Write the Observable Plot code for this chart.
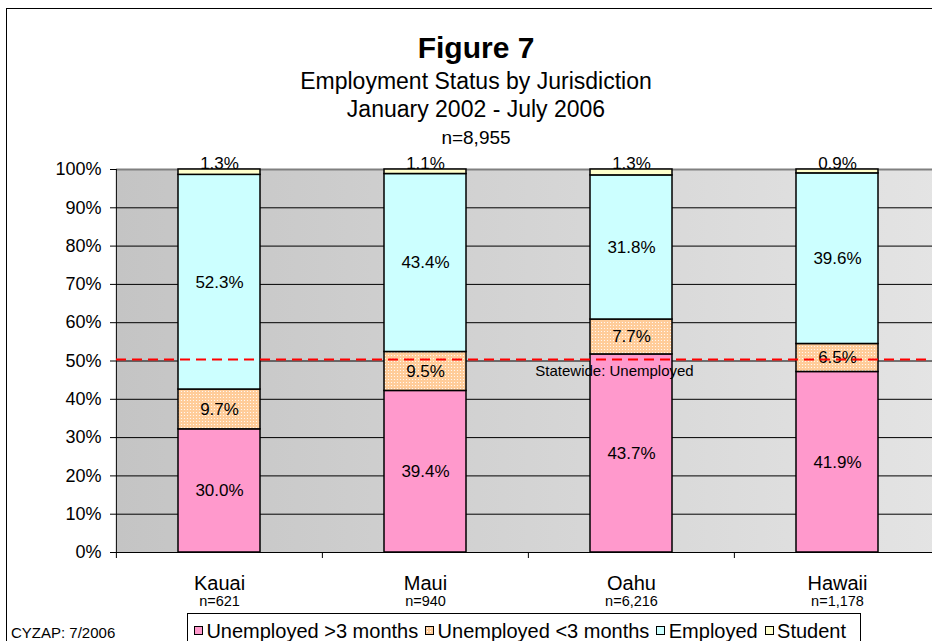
<!DOCTYPE html>
<html><head><meta charset="utf-8">
<script src="https://cdn.jsdelivr.net/npm/d3@7"></script>
<script src="https://cdn.jsdelivr.net/npm/@observablehq/plot@0.6"></script>
<style>
html,body{margin:0;padding:0;background:#fff;}
body{width:932px;height:641px;overflow:hidden;position:relative;font-family:"Liberation Sans",Arial,sans-serif;color:#000;}
#titles{position:relative;height:150px;}
.t{position:absolute;left:0;width:952px;text-align:center;line-height:1;white-space:nowrap;}
#chart svg{display:block;}
#frame{position:absolute;left:6px;top:8px;width:980px;height:700px;border:1px solid #000;pointer-events:none;}
#legend{position:absolute;left:187px;top:613px;width:674px;height:40px;border:1px solid #000;background:#fff;font-size:20px;line-height:1;white-space:nowrap;padding:7px 0 0 6px;box-sizing:border-box;}
.item{display:inline-block;margin-right:7px;}
.sw{display:inline-block;width:7px;height:7px;border:1px solid #000;margin-right:3.4px;vertical-align:3px;}
#caption{position:absolute;left:11px;top:625px;font-size:15px;line-height:1;white-space:nowrap;}
</style>
</head><body>
<div id="titles"></div>
<div id="chart"></div>
<div id="legend"></div>
<div id="caption"></div>
<div id="frame"></div>
<script>
// ---- data ----
const jurisdictions = ["Kauai", "Maui", "Oahu", "Hawaii"];
const sampleSizes = ["n=621", "n=940", "n=6,216", "n=1,178"];
const statuses = ["Unemployed >3 months", "Unemployed <3 months", "Employed", "Student"];
const unemployedLong = [30.0, 39.4, 43.7, 41.9];
const unemployedShort = [9.7, 9.5, 7.7, 6.5];
const employed = [52.3, 43.4, 31.8, 39.6];
const student = [1.3, 1.1, 1.3, 0.9];
const statewideUnemployed = 0.504;
const statewideLabel = "Statewide: Unemployed";
const yTicks = [0, 0.1, 0.2, 0.3, 0.4, 0.5, 0.6, 0.7, 0.8, 0.9, 1];
const titleLines = ["Figure 7", "Employment Status by Jurisdiction", "January 2002 - July 2006", "n=8,955"];
const captionText = "CYZAP: 7/2006";

// ---- styles ----
const statusFills = ["#FF99CC", "url(#dots)", "#CCFFFF", "#FFFFCC"];
const swatchCss = ["background:#FF99CC", "background-color:#FFCC99;background-image:radial-gradient(circle,#fff 0.8px,transparent 1px);background-size:3px 3px", "background:#CCFFFF", "background:#FFFFCC"];

// titles
const titleStyles = [
  "top:33px;font-size:30px;font-weight:bold;",
  "top:69.5px;font-size:23px;",
  "top:97.5px;font-size:23px;",
  "top:128px;font-size:19px;"
];
const titles = document.getElementById("titles");
titleLines.forEach((t, i) => {
  const d = document.createElement("div");
  d.className = "t"; d.style.cssText = titleStyles[i]; d.textContent = t;
  titles.appendChild(d);
});

const rows = [];
jurisdictions.forEach((j, i) => {
  const vals = [unemployedLong[i], unemployedShort[i], employed[i], student[i]];
  statuses.forEach((s, k) => rows.push({jurisdiction: j, status: s, value: vals[k]}));
});
const fmt = v => v.toFixed(1) + "%";

const W = 932, H = 463, mL = 116, mR = -9;
const padIn = 0.6, padOut = 0.3;
const step = (W - mR - mL) / (jurisdictions.length - padIn + 2 * padOut);

const chart = Plot.plot({
  width: W, height: H,
  marginTop: 19, marginBottom: 61, marginLeft: mL, marginRight: mR,
  style: {fontFamily: '"Liberation Sans", Arial, sans-serif', color: "#000", background: "transparent", overflow: "hidden"},
  x: {domain: jurisdictions, paddingInner: padIn, paddingOuter: padOut},
  y: {domain: [0, 1]},
  color: {domain: statuses, range: statusFills},
  marks: [
    Plot.frame({fill: "url(#plotBg)", stroke: null}),
    Plot.gridY(yTicks, {stroke: "#000", strokeOpacity: 1, strokeWidth: 1}),
    Plot.ruleY([1], {stroke: "#808080", strokeWidth: 2}),
    Plot.barY(rows, Plot.stackY({offset: "normalize", x: "jurisdiction", y: "value", fill: "status", stroke: "#000", strokeWidth: 1.5})),
    Plot.ruleY([0], {stroke: "#000", strokeWidth: 1}),
    Plot.ruleX([jurisdictions[0]], {y1: 0, y2: 1, dx: -step / 2, stroke: "#000", strokeWidth: 1}),
    Plot.axisY(yTicks, {tickFormat: d => Math.round(d * 100) + "%", tickSize: 6, tickPadding: 9, fontSize: 18, label: null, stroke: "#000"}),
    Plot.axisX({tickSize: 6, tickFormat: () => "", dx: -step / 2, label: null, stroke: "#000"}),
    Plot.axisX({tickSize: 0, tickPadding: 23, fontSize: 20, label: null}),
    Plot.axisX({tickSize: 0, tickPadding: 43.5, fontSize: 14.5, label: null, tickFormat: j => sampleSizes[jurisdictions.indexOf(j)]}),
    Plot.text(rows, Plot.stackY({offset: "normalize", x: "jurisdiction", y: "value", z: "status", text: d => d.status === statuses[3] ? "" : fmt(d.value), fontSize: 17, fill: "#000"})),
    Plot.text(rows, Plot.stackY2({offset: "normalize", x: "jurisdiction", y: "value", z: "status", text: d => d.status === statuses[3] ? fmt(d.value) : "", fontSize: 17, dy: -6, fill: "#000"})),
    Plot.text([statewideLabel], {x: () => jurisdictions[2], y: () => statewideUnemployed, text: d => d, dx: -17, dy: 12, fontSize: 15, fill: "#000"}),
    Plot.ruleY([statewideUnemployed], {stroke: "#FF0000", strokeWidth: 2, strokeDasharray: "10,6"})
  ]
});

const svg = d3.select(chart);
const defs = svg.insert("defs", ":first-child");
const g = defs.append("linearGradient").attr("id", "plotBg").attr("x1", "0").attr("x2", "1").attr("y1", "0").attr("y2", "0");
g.append("stop").attr("offset", "0%").attr("stop-color", "#c4c4c4");
g.append("stop").attr("offset", "100%").attr("stop-color", "#e4e4e4");
const p = defs.append("pattern").attr("id", "dots").attr("patternUnits", "userSpaceOnUse").attr("width", 3).attr("height", 3);
p.append("rect").attr("width", 3).attr("height", 3).attr("fill", "#FFCC99");
p.append("circle").attr("cx", 1.5).attr("cy", 1.5).attr("r", 0.6).attr("fill", "#fff");
document.getElementById("chart").appendChild(chart);

// legend
const legend = document.getElementById("legend");
statuses.forEach((s, i) => {
  const it = document.createElement("span");
  it.className = "item";
  const sw = document.createElement("span");
  sw.className = "sw"; sw.style.cssText += swatchCss[i];
  it.appendChild(sw);
  it.appendChild(document.createTextNode(s));
  legend.appendChild(it);
});
document.getElementById("caption").textContent = captionText;
</script>
</body></html>
